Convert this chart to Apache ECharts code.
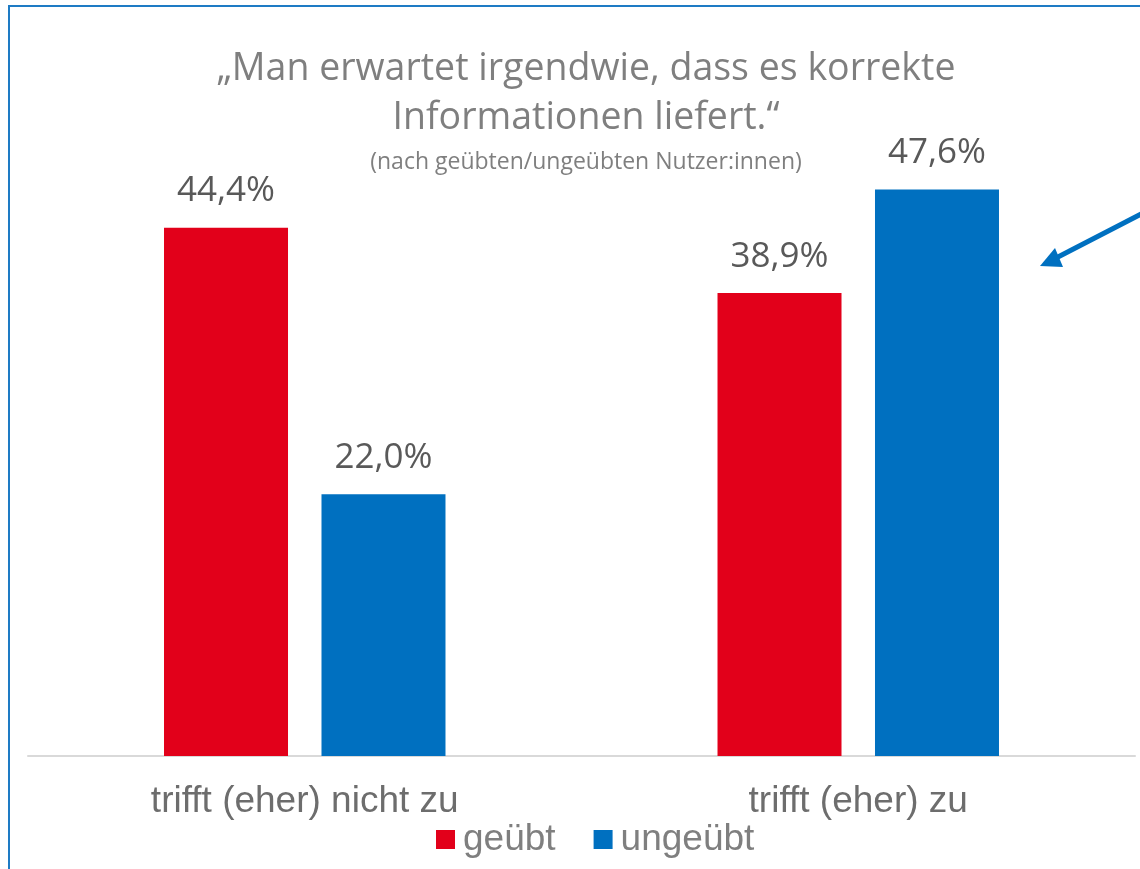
<!DOCTYPE html>
<html>
<head>
<meta charset="utf-8">
<script src="https://cdn.jsdelivr.net/npm/echarts@6/dist/echarts.min.js"></script>
<style>
  html, body { margin: 0; padding: 0; background: #fff; }
  #main { width: 1140px; height: 869px; }
</style>
</head>
<body>
<div id="main"></div>
<script>
const categories = ['trifft (eher) nicht zu', 'trifft (eher) zu'];
const geuebt = [44.4, 38.9];
const ungeuebt = [22.0, 47.6];
const seriesNames = ['geübt', 'ungeübt'];

let chartDom = document.getElementById('main');
let myChart = echarts.init(chartDom);

function pct(p) {
  return p.value.toFixed(1).replace('.', ',') + '%';
}

let labelStyle = {
  show: true,
  position: 'top',
  distance: 19,
  formatter: pct,
  color: '#595959',
  fontSize: 35,
  fontFamily: 'Open Sans'
};

let option = {
  color: ['#e2001a', '#0070c0'],
  title: [
    {
      text: '„Man erwartet irgendwie, dass es korrekte\nInformationen liefert.“',
      left: 581,
      top: 40,
      textAlign: 'center',
      textStyle: {
        color: '#7f7f7f',
        fontSize: 37.5,
        fontWeight: 'normal',
        fontFamily: 'Open Sans',
        lineHeight: 49
      }
    },
    {
      text: '(nach geübten/ungeübten Nutzer:innen)',
      left: 581,
      top: 146,
      textAlign: 'center',
      textStyle: {
        color: '#7f7f7f',
        fontSize: 23,
        fontWeight: 'normal',
        fontFamily: 'Open Sans'
      }
    }
  ],
  legend: {
    data: seriesNames,
    left: 436,
    top: 821,
    padding: 0,
    icon: 'rect',
    itemWidth: 19,
    itemHeight: 19,
    itemGap: 38,
    textStyle: {
      color: '#7f7f7f',
      fontSize: 37,
      fontFamily: 'Liberation Sans',
      padding: [0, 0, 0, 3]
    }
  },
  grid: {
    left: 28,
    right: 5,
    top: 161,
    bottom: 113
  },
  xAxis: {
    type: 'category',
    data: categories,
    axisLine: { lineStyle: { color: '#d9d9d9', width: 2 } },
    axisTick: { show: false },
    axisLabel: {
      color: '#6d6d6d',
      fontSize: 37,
      fontFamily: 'Liberation Sans',
      margin: 27
    }
  },
  yAxis: {
    type: 'value',
    min: 0,
    max: 50,
    show: false,
    splitLine: { show: false }
  },
  graphic: [
    {
      type: 'rect',
      shape: { x: 9, y: 6, width: 1300, height: 1000 },
      style: { fill: 'none', stroke: '#1e7bc4', lineWidth: 2 },
      silent: true
    },
    {
      type: 'line',
      shape: { x1: 1145, y1: 212, x2: 1056, y2: 258 },
      style: { stroke: '#0070c0', lineWidth: 5 },
      silent: true
    },
    {
      type: 'polygon',
      shape: { points: [[1040, 266], [1055, 248], [1063, 267]] },
      style: { fill: '#0070c0' },
      silent: true
    }
  ],
  series: [
    {
      name: seriesNames[0],
      type: 'bar',
      barWidth: 124,
      barGap: '27%',
      data: geuebt,
      label: labelStyle
    },
    {
      name: seriesNames[1],
      type: 'bar',
      barWidth: 124,
      barGap: '27%',
      data: ungeuebt,
      label: labelStyle
    }
  ]
};

option && myChart.setOption(option);
</script>
</body>
</html>
